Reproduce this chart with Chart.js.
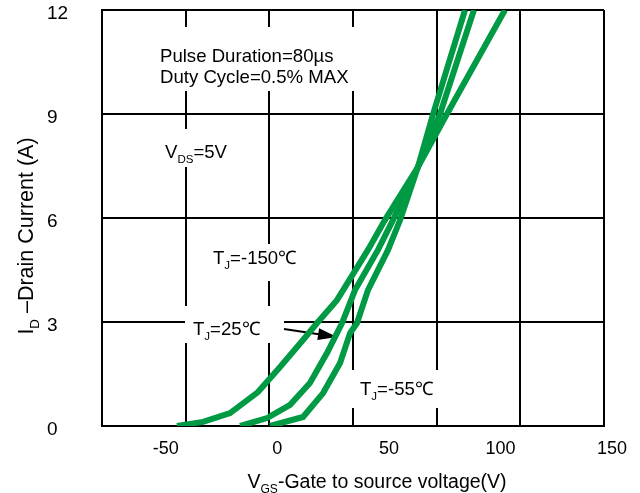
<!DOCTYPE html>
<html>
<head>
<meta charset="utf-8">
<script src="https://cdn.jsdelivr.net/npm/chart.js@4.4.1/dist/chart.umd.min.js"></script>
<style>
  html, body { margin: 0; padding: 0; background: #fff; }
  #wrap { width: 640px; height: 493px; }
</style>
</head>
<body>
<div id="wrap"><canvas id="myChart"></canvas></div>
<script>
// axis setup
const xGrid = [-75, -37.5, 0, 37.5, 75, 112.5, 150];
const xTicks = [-50, 0, 50, 100, 150];
const yTicks = [0, 3, 6, 9, 12];

// T_J = -150 C
const vgsA = [-41.4, -29.7, -17.6, -5.1, 4.8, 15.1, 21.4, 30.3, 44.2, 51.8, 66.6, 79.6, 105.6];
const idA  = [0, 0.12, 0.37, 0.98, 1.70, 2.48, 2.97, 3.63, 5.08, 5.94, 7.47, 9.0, 12.0];
// T_J = 25 C
const vgsB = [-13.1, -1.0, 9.3, 18.2, 25.9, 32.6, 38.4, 48.7, 55.4, 66.6, 76.5, 91.7];
const idB  = [0, 0.23, 0.61, 1.24, 2.11, 2.97, 3.92, 5.08, 5.94, 7.47, 9.0, 12.0];
// T_J = -55 C
const vgsC = [0.3, 15.1, 24.1, 31.7, 36.2, 39.3, 44.2, 53.2, 58.6, 66.6, 73.4, 87.7];
const idC  = [0, 0.26, 0.95, 1.82, 2.68, 2.97, 3.92, 5.08, 5.94, 7.47, 9.0, 12.0];

const FONT = '"Liberation Sans", Arial, sans-serif';
const GREEN = '#009a44';

function pts(xs, ys) {
    return xs.map((v, i) => ({x: v, y: ys[i]}));
}

// text with subscripts: parts = [[text, isSub], ...]
function rich(ctx, parts, x, y, size) {
    for (const [t, sub] of parts) {
        ctx.font = (sub ? size * 0.62 : size) + 'px ' + FONT;
        ctx.fillText(t, x, y + (sub ? size * 0.27 : 0));
        x += ctx.measureText(t).width;
    }
}
function richWidth(ctx, parts, size) {
    let w = 0;
    for (const [t, sub] of parts) {
        ctx.font = (sub ? size * 0.62 : size) + 'px ' + FONT;
        w += ctx.measureText(t).width;
    }
    return w;
}

// white label boxes that break the grid, like the original
const boxes = [
    [155, 27, 362, 91],
    [160, 129, 236, 167],
    [209, 244, 307, 281],
    [185, 306, 284, 343],
    [349, 370, 441, 408]
];

const notes = {
    id: 'notes',
    beforeDatasetsDraw(chart) {
        const ctx = chart.ctx;
        ctx.save();
        ctx.fillStyle = '#fff';
        boxes.forEach(b => ctx.fillRect(b[0], b[1], b[2] - b[0], b[3] - b[1]));

        ctx.fillStyle = '#000';
        ctx.textAlign = 'left';
        ctx.textBaseline = 'alphabetic';
        rich(ctx, [['Pulse Duration=80µs']], 160, 62, 18.6);
        rich(ctx, [['Duty Cycle=0.5% MAX']], 160, 83, 18.6);
        rich(ctx, [['V'], ['DS', true], ['=5V']], 165, 158, 18.6);
        rich(ctx, [['T'], ['J', true], ['=-150℃']], 213, 264, 18.6);
        rich(ctx, [['T'], ['J', true], ['=25℃']], 193, 335, 18.6);
        rich(ctx, [['T'], ['J', true], ['=-55℃']], 360, 395, 18.6);

        // arrow to the 25C curve
        const x0 = 284, y0 = 329, x1 = 337, y1 = 337;
        const a = Math.atan2(y1 - y0, x1 - x0);
        ctx.strokeStyle = '#000';
        ctx.lineWidth = 2;
        ctx.beginPath();
        ctx.moveTo(x0, y0);
        ctx.lineTo(x1 - 15 * Math.cos(a), y1 - 15 * Math.sin(a));
        ctx.stroke();
        ctx.beginPath();
        ctx.moveTo(x1, y1);
        ctx.lineTo(x1 - 19 * Math.cos(a) + 6 * Math.sin(a), y1 - 19 * Math.sin(a) - 6 * Math.cos(a));
        ctx.lineTo(x1 - 19 * Math.cos(a) - 6 * Math.sin(a), y1 - 19 * Math.sin(a) + 6 * Math.cos(a));
        ctx.closePath();
        ctx.fill();

        // axis titles
        const xt = [['V'], ['GS', true], ['-Gate to source voltage(V)']];
        const wx = richWidth(ctx, xt, 19.5);
        rich(ctx, xt, 377 - wx / 2, 488, 19.5);

        const yt = [['I'], ['D', true], [' –Drain Current (A)']];
        const wy = richWidth(ctx, yt, 21.5);
        ctx.translate(33, 236);
        ctx.rotate(-Math.PI / 2);
        rich(ctx, yt, -wy / 2, 0, 21.5);
        ctx.restore();
    }
};

const ctx = document.getElementById('myChart').getContext('2d');
const myChart = new Chart(ctx, {
    type: 'line',
    data: {
        datasets: [
            { label: 'TJ=-150℃', data: pts(vgsA, idA) },
            { label: 'TJ=25℃', data: pts(vgsB, idB) },
            { label: 'TJ=-55℃', data: pts(vgsC, idC) }
        ].map(d => Object.assign(d, {
            borderColor: GREEN,
            borderWidth: 6,
            pointRadius: 0,
            tension: 0,
            fill: false
        }))
    },
    options: {
        responsive: true,
        maintainAspectRatio: false,
        animation: false,
        layout: { padding: { left: 47, right: 36, top: 10, bottom: 0 } },
        plugins: {
            legend: { display: false },
            tooltip: { enabled: false }
        },
        scales: {
            x: {
                type: 'linear',
                min: -75,
                max: 150,
                afterBuildTicks: s => {
                    s.ticks = [...new Set(xGrid.concat(xTicks))].sort((a, b) => a - b).map(v => ({value: v}));
                },
                afterFit: s => {
                    s.height = 67;
                    s.paddingLeft = 0;
                    s.paddingRight = 0;
                },
                grid: {
                    color: c => (c.tick && xGrid.includes(c.tick.value)) ? '#000' : 'rgba(0,0,0,0)',
                    lineWidth: 2,
                    drawTicks: false
                },
                border: { color: '#000', width: 2 },
                ticks: {
                    autoSkip: false,
                    maxRotation: 0,
                    padding: 12,
                    labelOffset: 8,
                    color: '#000',
                    font: { family: FONT, size: 18 },
                    callback: v => xTicks.includes(v) ? String(v) : ''
                }
            },
            y: {
                min: 0,
                max: 12,
                afterBuildTicks: s => {
                    s.ticks = yTicks.map(v => ({value: v}));
                },
                afterFit: s => {
                    s.width = 55;
                    s.paddingTop = 0;
                    s.paddingBottom = 0;
                },
                grid: { color: '#000', lineWidth: 2, drawTicks: false },
                border: { color: '#000', width: 2 },
                ticks: {
                    crossAlign: 'far',
                    padding: 0,
                    labelOffset: 4,
                    color: '#000',
                    font: { family: FONT, size: 19 }
                }
            }
        }
    },
    plugins: [notes]
});
</script>
</body>
</html>
